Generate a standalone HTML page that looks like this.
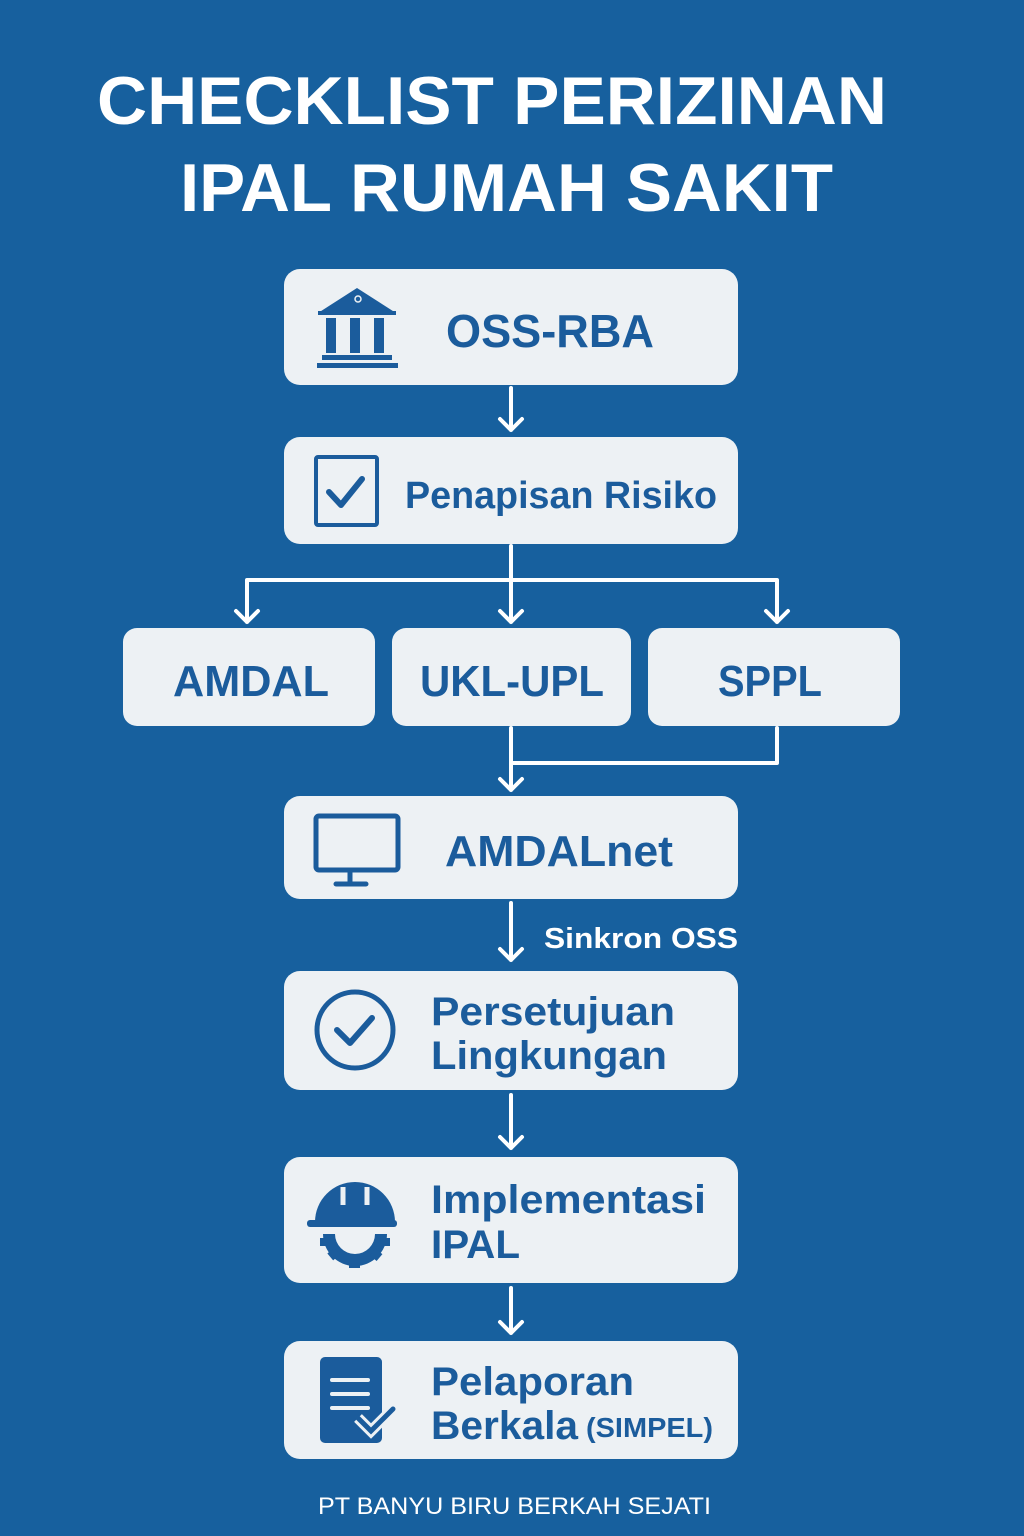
<!DOCTYPE html>
<html><head><meta charset="utf-8"><style>
html,body{margin:0;padding:0;background:#17609e;}
svg{display:block}
text{font-family:"Liberation Sans","DejaVu Sans",sans-serif;font-weight:bold;}
</style></head><body>
<svg width="1024" height="1536" viewBox="0 0 1024 1536" xmlns="http://www.w3.org/2000/svg">
<rect width="1024" height="1536" fill="#17609e"/>
<g fill="#ffffff">
<text x="97" y="124" font-size="68" textLength="790" lengthAdjust="spacingAndGlyphs">CHECKLIST PERIZINAN</text>
<text x="180" y="211" font-size="68" textLength="653" lengthAdjust="spacingAndGlyphs">IPAL RUMAH SAKIT</text>
</g>
<g fill="#edf1f4">
<rect x="284" y="269" width="454" height="116" rx="16"/>
<rect x="284" y="437" width="454" height="107" rx="16"/>
<rect x="123" y="628" width="252" height="98" rx="14"/>
<rect x="392" y="628" width="239" height="98" rx="14"/>
<rect x="648" y="628" width="252" height="98" rx="14"/>
<rect x="284" y="796" width="454" height="103" rx="16"/>
<rect x="284" y="971" width="454" height="119" rx="16"/>
<rect x="284" y="1157" width="454" height="126" rx="16"/>
<rect x="284" y="1341" width="454" height="118" rx="16"/>
</g>
<g stroke="#fff" stroke-width="4" fill="none" stroke-linecap="round" stroke-linejoin="round">
<path d="M511 388V430M500 419L511 430L522 419"/>
<path d="M511 546V580M247 622V580H777V622M511 580V622M236 611L247 622L258 611M500 611L511 622L522 611M766 611L777 622L788 611"/>
<path d="M511 728V790M777 728V763H511M500 779L511 790L522 779"/>
<path d="M511 903V960M500 949L511 960L522 949"/>
<path d="M511 1095V1148M500 1137L511 1148L522 1137"/>
<path d="M511 1288V1333M500 1322L511 1333L522 1322"/>
</g>
<text x="544" y="948" font-size="29" fill="#fff" textLength="194" lengthAdjust="spacingAndGlyphs">Sinkron OSS</text>
<g fill="#1b5c9c">
<text x="446" y="347" font-size="46" textLength="208" lengthAdjust="spacingAndGlyphs">OSS-RBA</text>
<text x="405" y="508" font-size="38" textLength="312" lengthAdjust="spacingAndGlyphs">Penapisan Risiko</text>
<text x="173" y="696" font-size="44" textLength="156" lengthAdjust="spacingAndGlyphs">AMDAL</text>
<text x="420" y="696" font-size="44" textLength="184" lengthAdjust="spacingAndGlyphs">UKL-UPL</text>
<text x="718" y="696" font-size="44" textLength="104" lengthAdjust="spacingAndGlyphs">SPPL</text>
<text x="445" y="866" font-size="44" textLength="228" lengthAdjust="spacingAndGlyphs">AMDALnet</text>
<text x="431" y="1025" font-size="40" textLength="244" lengthAdjust="spacingAndGlyphs">Persetujuan</text>
<text x="431" y="1069" font-size="40" textLength="236" lengthAdjust="spacingAndGlyphs">Lingkungan</text>
<text x="431" y="1213" font-size="40" textLength="275" lengthAdjust="spacingAndGlyphs">Implementasi</text>
<text x="431" y="1258" font-size="40" textLength="89" lengthAdjust="spacingAndGlyphs">IPAL</text>
<text x="431" y="1395" font-size="40" textLength="203" lengthAdjust="spacingAndGlyphs">Pelaporan</text>
<text x="431" y="1439" font-size="40" textLength="147" lengthAdjust="spacingAndGlyphs">Berkala</text>
<text x="586" y="1437" font-size="28" textLength="127" lengthAdjust="spacingAndGlyphs">(SIMPEL)</text>
<path d="M318 313L357 288L396 313Z"/>
<rect x="318" y="311" width="78" height="4"/>
<rect x="326" y="318" width="10" height="35"/><rect x="350" y="318" width="10" height="35"/><rect x="374" y="318" width="10" height="35"/>
<rect x="322" y="355" width="70" height="5"/><rect x="317" y="363" width="81" height="5"/>
</g>
<circle cx="358" cy="299" r="3" fill="none" stroke="#edf1f4" stroke-width="1.5"/>
<g fill="none" stroke="#1b5c9c" stroke-linecap="round" stroke-linejoin="round">
<rect x="316" y="457" width="61" height="68" rx="2" stroke-width="4"/>
<path d="M329 492L341 505L362 479" stroke-width="6"/>
<rect x="316" y="816" width="82" height="54" rx="3" stroke-width="5"/>
<path d="M350 872V882M336 884H366" stroke-width="5"/>
<circle cx="355" cy="1030" r="38" stroke-width="5"/>
<path d="M337 1030L350 1043L372 1018" stroke-width="6"/>
</g>
<g fill="#1b5c9c">
<path d="M315 1222A40 40 0 0 1 395 1222Z"/>
<rect x="307" y="1220" width="90" height="7" rx="3"/>
<path d="M323 1234A32 32 0 0 0 387 1234L375 1234A20 20 0 0 1 335 1234Z"/>
<rect x="349" y="1259" width="11" height="9"/>
<rect x="329" y="1250" width="9" height="9" transform="rotate(-40 333 1254)"/>
<rect x="372" y="1250" width="9" height="9" transform="rotate(40 376 1254)"/>
<rect x="320" y="1238" width="8" height="8"/>
<rect x="382" y="1238" width="8" height="8"/>
</g>
<path d="M343 1187V1205M367 1187V1205" stroke="#edf1f4" stroke-width="5"/>
<rect x="320" y="1357" width="62" height="86" rx="5" fill="#1b5c9c"/>
<path d="M332 1380H368M332 1394H368M332 1408H368" stroke="#edf1f4" stroke-width="4" stroke-linecap="round"/>
<path d="M358 1418L371 1431L393 1409" stroke="#edf1f4" stroke-width="11" fill="none"/>
<path d="M358 1418L371 1431L393 1409" stroke="#1b5c9c" stroke-width="5" fill="none" stroke-linecap="round"/>
<text x="318" y="1514" font-size="24" fill="#fff" style="font-weight:normal" textLength="393" lengthAdjust="spacingAndGlyphs">PT BANYU BIRU BERKAH SEJATI</text>
</svg>
</body></html>
